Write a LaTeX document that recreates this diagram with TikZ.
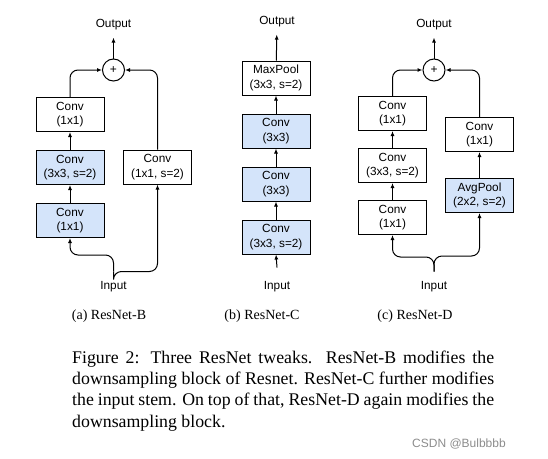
\documentclass[tikz,border=0pt]{standalone}
\usepackage{fontspec}
\setmainfont{Liberation Serif}
\setsansfont{Liberation Sans}
\usetikzlibrary{arrows.meta,positioning}
\definecolor{convblue}{RGB}{212,228,250}
\definecolor{wmgray}{RGB}{140,140,140}
\tikzset{
  box/.style={draw,line width=1pt,minimum width=68pt,minimum height=34pt,inner sep=0pt,
    align=center,font=\sffamily\fontsize{11.8}{14.5}\selectfont},
  bluebox/.style={box,fill=convblue},
  plus/.style={draw,circle,line width=1pt,minimum size=22pt,inner sep=0pt,font=\sffamily\fontsize{12}{12}\selectfont},
  lbl/.style={inner sep=0pt,font=\sffamily\fontsize{11.8}{13}\selectfont},
  sub/.style={font=\fontsize{14}{16}\selectfont},
  arr/.style={-{Latex[length=5pt,width=4pt]},line width=1pt},
  link/.style={arr,rounded corners=8pt},
}
\begin{document}
\begin{tikzpicture}[x=1pt,y=-1pt]
  \useasboundingbox (0,0) rectangle (548,458);

  % (a) ResNet-B
  \node [lbl] (bout) at (113.5,25) {Output};
  \node [plus] (bplus) at (113.5,70) {+};
  \node [box] (b1) at (70,114.5) {Conv\\(1x1)};
  \node [bluebox,below=18pt of b1] (b2) {Conv\\(3x3, s=2)};
  \node [bluebox,below=18pt of b2] (b3) {Conv\\(1x1)};
  \node [box] (br) at (157.5,167) {Conv\\(1x1, s=2)};
  \node [lbl] (bin) at (113.5,287) {Input};

  \draw[arr,shorten >=7pt] (bplus) -- (bout);
  \draw[link] (b1.north) |- (bplus.west);
  \draw[link] (br.north) |- (bplus.east);
  \draw[arr] (b2) -- (b1);
  \draw[arr] (b3) -- (b2);
  \draw[link] ([yshift=10pt]bin.north) |- ([yshift=-17pt]b3.south) -- (b3.south);
  \draw[link] ([yshift=10pt]bin.north) |- ([yshift=-87pt]br.south) -- (br.south);

  % (b) ResNet-C
  \node [lbl] (cout) at (277,22) {Output};
  \node [box] (c1) at (276,78) {MaxPool\\(3x3, s=2)};
  \node [bluebox,below=18pt of c1] (c2) {Conv\\(3x3)};
  \node [bluebox,below=18pt of c2] (c3) {Conv\\(3x3)};
  \node [bluebox,below=18pt of c3] (c4) {Conv\\(3x3, s=2)};
  \node [lbl] (cin) at (277,287) {Input};

  \draw[arr,shorten >=7pt] (c1) -- (cout);
  \draw[arr] (c2) -- (c1);
  \draw[arr] (c3) -- (c2);
  \draw[arr] (c4) -- (c3);
  \draw[arr] ([yshift=14pt]cin.north) -- (c4.south);

  % (c) ResNet-D
  \node [lbl] (dout) at (434,25) {Output};
  \node [plus] (dplus) at (434,70) {+};
  \node [box] (d1) at (392.5,113.5) {Conv\\(1x1)};
  \node [box,below=17pt of d1] (d2) {Conv\\(3x3, s=2)};
  \node [box,below=17pt of d2] (d3) {Conv\\(1x1)};
  \node [box] (dr1) at (479.5,134.5) {Conv\\(1x1)};
  \node [bluebox,below=26pt of dr1] (dr2) {AvgPool\\(2x2, s=2)};
  \node [lbl] (din) at (434,287) {Input};

  \draw[arr,shorten >=7pt] (dplus) -- (dout);
  \draw[link] (d1.north) |- (dplus.west);
  \draw[link] (dr1.north) |- (dplus.east);
  \draw[arr] (d2) -- (d1);
  \draw[arr] (d3) -- (d2);
  \draw[arr] (dr2) -- (dr1);
  \draw[link] ([yshift=10pt]din.north) |- ([yshift=-22pt]d3.south) -- (d3.south);
  \draw[link] ([yshift=10pt]din.north) |- ([yshift=-43pt]dr2.south) -- (dr2.south);

  % captions
  \node [sub] (capb) at (109,316) {(a) ResNet-B};
  \node [sub] (capc) at (262,316) {(b) ResNet-C};
  \node [sub] (capd) at (415,316) {(c) ResNet-D};
  \node [anchor=north west,text width=422pt,align=justify,inner sep=0pt,
    font=\fontsize{17.8}{21.3}\selectfont] (fig) at (72,350.5)
    {Figure 2: Three ResNet tweaks.  ResNet-B modifies the\linebreak
     downsampling block of Resnet. ResNet-C further modifies\linebreak
     the input stem. On top of that, ResNet-D again modifies the\linebreak
     downsampling block.};
  \node [text=wmgray,font=\sffamily\fontsize{12}{12}\selectfont] (wm) at (459,444) {CSDN @Bulbbbb};
\end{tikzpicture}
\end{document}
